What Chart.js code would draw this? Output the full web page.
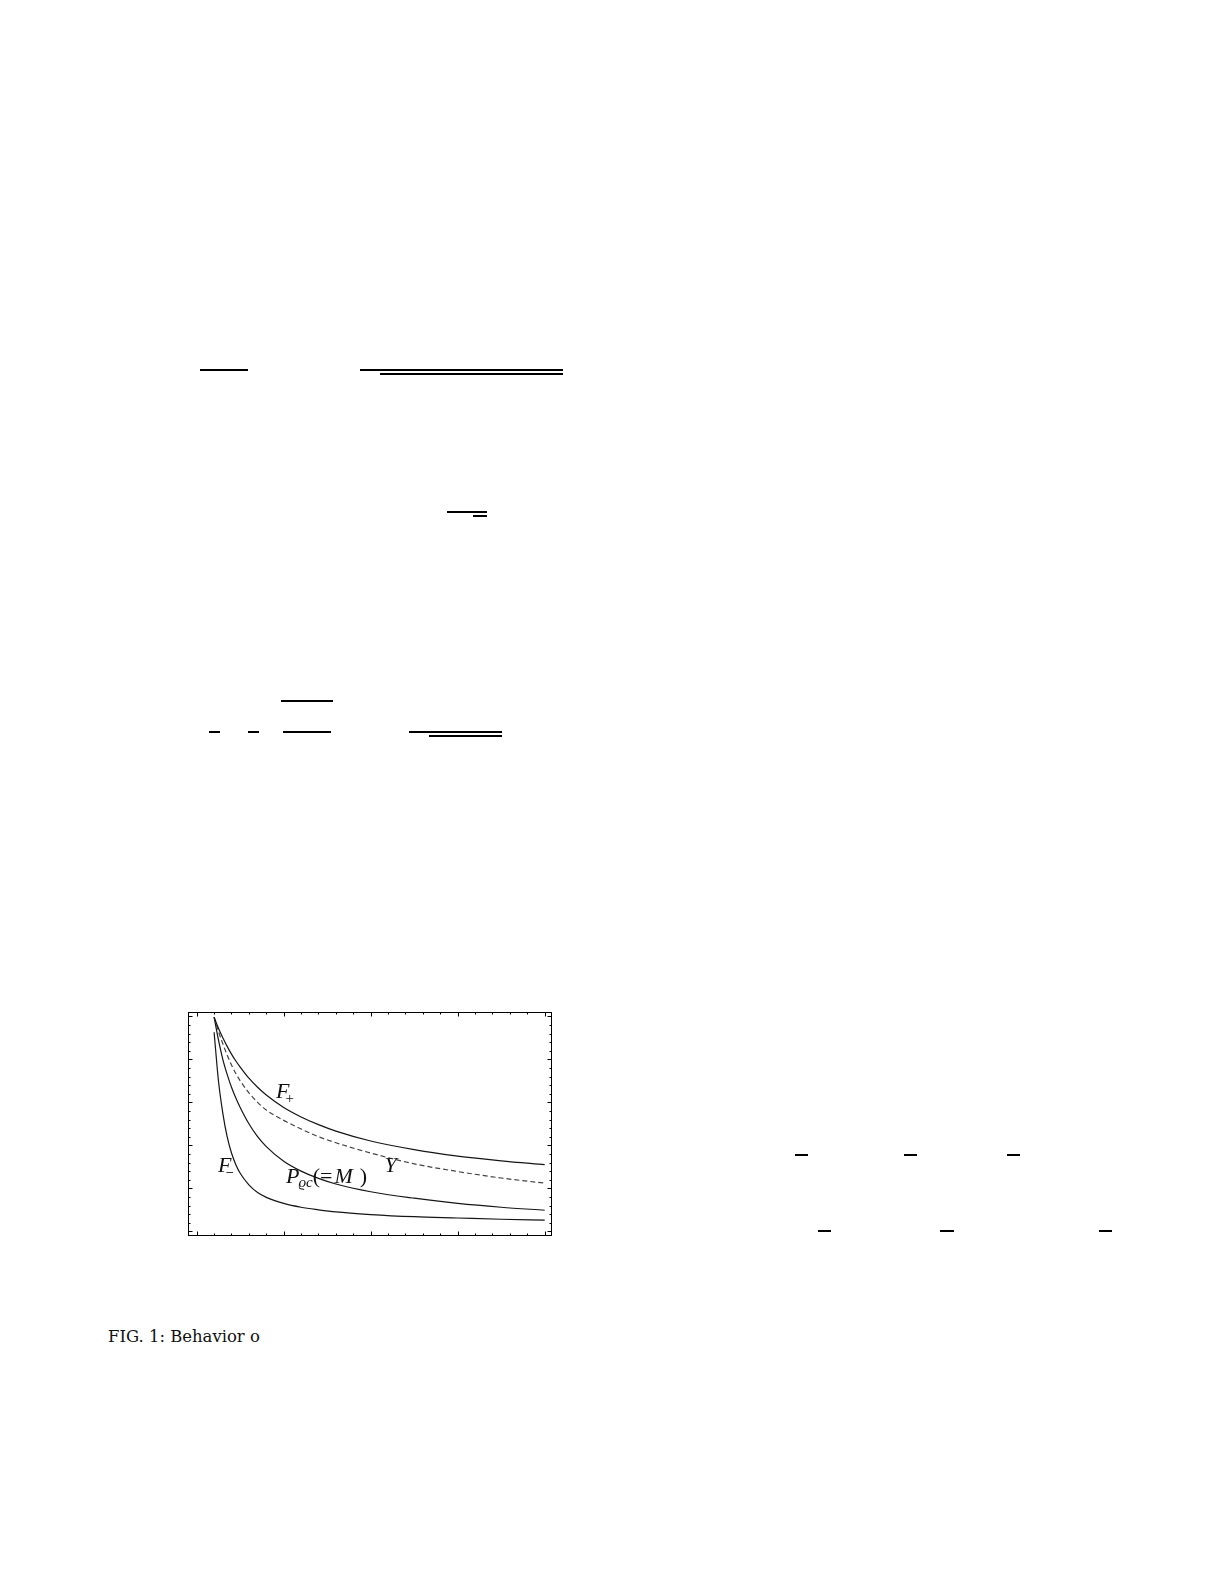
<!DOCTYPE html>
<html><head><meta charset="utf-8">
<script src="https://cdn.jsdelivr.net/npm/chart.js@4/dist/chart.umd.min.js"></script>
<style>
html,body{margin:0;padding:0;background:#fff;}
body{width:1225px;height:1585px;position:relative;overflow:hidden;}
.bar{position:absolute;background:#000;height:2px;}
#wrap{position:absolute;left:186px;top:1010px;width:368px;height:228px;}
#cap{position:absolute;left:108px;top:1328px;font-family:"DejaVu Serif",serif;font-size:14px;white-space:nowrap;color:#111;line-height:1;}
</style></head>
<body>
<div class="bar" style="left:200px;top:369px;width:48px"></div>
<div class="bar" style="left:360px;top:369px;width:203px"></div>
<div class="bar" style="left:380px;top:373px;width:183px"></div>
<div class="bar" style="left:447px;top:511px;width:40px"></div>
<div class="bar" style="left:473px;top:515px;width:14px"></div>
<div class="bar" style="left:281px;top:700px;width:52px"></div>
<div class="bar" style="left:209px;top:731px;width:11px"></div>
<div class="bar" style="left:248px;top:731px;width:11px"></div>
<div class="bar" style="left:283px;top:731px;width:48px"></div>
<div class="bar" style="left:409px;top:731px;width:93px"></div>
<div class="bar" style="left:429px;top:735px;width:73px"></div>
<div class="bar" style="left:795px;top:1154px;width:13px"></div>
<div class="bar" style="left:904px;top:1154px;width:13px"></div>
<div class="bar" style="left:1007px;top:1154px;width:13px"></div>
<div class="bar" style="left:818px;top:1230px;width:13px"></div>
<div class="bar" style="left:940px;top:1230px;width:14px"></div>
<div class="bar" style="left:1099px;top:1230px;width:13px"></div>
<div id="wrap"><canvas id="c"></canvas></div>
<div id="cap">FIG. 1: Behavior o</div>
<script>
// ---- data ----
const xValues = [1.2, 1.25, 1.3, 1.35, 1.4, 1.45, 1.5, 1.6, 1.7, 1.8, 2.0, 2.2, 2.4, 2.6, 3.0, 3.5, 4.0, 4.5, 5.0];
const fPlus   = [4.98, 4.72, 4.50, 4.30, 4.12, 3.96, 3.82, 3.56, 3.35, 3.17, 2.88, 2.66, 2.48, 2.33, 2.10, 1.90, 1.75, 1.64, 1.55];
const yCurve  = [4.98, 4.65, 4.36, 4.10, 3.87, 3.67, 3.50, 3.22, 3.00, 2.82, 2.58, 2.38, 2.20, 2.06, 1.82, 1.57, 1.39, 1.24, 1.12];
const pCurve  = [4.98, 4.45, 4.00, 3.65, 3.35, 3.10, 2.88, 2.50, 2.20, 1.97, 1.63, 1.40, 1.23, 1.10, 0.92, 0.77, 0.65, 0.56, 0.49];
const fMinus  = [4.63, 3.50, 2.75, 2.20, 1.82, 1.55, 1.35, 1.08, 0.90, 0.79, 0.65, 0.56, 0.50, 0.45, 0.39, 0.34, 0.31, 0.28, 0.26];
const xMajorTicks = [1, 2, 3, 4, 5];
const xMinorTicks = [1.2,1.4,1.6,1.8,2.2,2.4,2.6,2.8,3.2,3.4,3.6,3.8,4.2,4.4,4.6,4.8];
const yMajorTicks = [0, 1, 2, 3, 4, 5];
const yMinorTicks = [0.2,0.4,0.6,0.8,1.2,1.4,1.6,1.8,2.2,2.4,2.6,2.8,3.2,3.4,3.6,3.8,4.2,4.4,4.6,4.8];

const pts = arr => xValues.map((x,i)=>({x, y:arr[i]}));

const SERIF = '"Liberation Serif", "Times New Roman", serif';
const curveLabels = [
  {x:1.911, y:3.093, parts:[{t:'F',f:'italic 22px '+SERIF},{t:'+',f:'15px '+SERIF,dy:5,dx:-4}]},
  {x:1.245, y:1.372, parts:[{t:'F',f:'italic 22px '+SERIF},{t:'\u2013',f:'bold 13px '+SERIF,dy:3,dx:-5}]},
  {x:3.16,  y:1.372, parts:[{t:'Y',f:'italic 22px '+SERIF}]},
  {x:2.027, y:1.116, parts:[{t:'P',f:'italic 22px '+SERIF},{t:'\u03f1c',f:'italic 15px '+SERIF,dy:4,dx:-1},
                             {t:'(',f:'22px '+SERIF,dx:0},{t:'=',f:'22px '+SERIF,dx:0},{t:'M',f:'italic 22px '+SERIF,dx:2},{t:')',f:'22px '+SERIF,dx:7}]}
];

const framePlugin = {
  id:'frameTicks',
  afterDatasetsDraw(chart){
    const {ctx, chartArea:a, scales:{x, y}} = chart;
    ctx.save();
    ctx.strokeStyle = '#000';
    ctx.lineWidth = 1;
    const L = Math.round(a.left)+0.5, R = Math.round(a.right)-0.5, T = Math.round(a.top)+0.5, B = Math.round(a.bottom)-0.5;
    ctx.strokeRect(L, T, R-L, B-T);
    ctx.beginPath();
    const xt = (v, len) => { const p = Math.round(x.getPixelForValue(v))+0.5; ctx.moveTo(p,B); ctx.lineTo(p,B-len); ctx.moveTo(p,T); ctx.lineTo(p,T+len); };
    const yt = (v, len) => { const p = Math.round(y.getPixelForValue(v))+0.5; ctx.moveTo(L,p); ctx.lineTo(L+len,p); ctx.moveTo(R,p); ctx.lineTo(R-len,p); };
    xMajorTicks.forEach(v=>xt(v,4)); xMinorTicks.forEach(v=>xt(v,2));
    yMajorTicks.forEach(v=>yt(v,4)); yMinorTicks.forEach(v=>yt(v,2));
    ctx.stroke();
    ctx.fillStyle = '#111';
    ctx.textBaseline = 'alphabetic';
    curveLabels.forEach(lb=>{
      let px = x.getPixelForValue(lb.x), py = y.getPixelForValue(lb.y);
      lb.parts.forEach(p=>{
        ctx.font = p.f;
        px += (p.dx||0);
        ctx.fillText(p.t, px, py + (p.dy||0));
        px += ctx.measureText(p.t).width;
      });
    });
    ctx.restore();
  }
};

const base = {pointRadius:0, borderWidth:1.2, fill:false, cubicInterpolationMode:'monotone'};
new Chart(document.getElementById('c'), {
  type:'line',
  data:{datasets:[
    {...base, label:'F+', data:pts(fPlus), borderColor:'#151515'},
    {...base, label:'Y', data:pts(yCurve), borderColor:'#444', borderDash:[5,3]},
    {...base, label:'P', data:pts(pCurve), borderColor:'#151515'},
    {...base, label:'F-', data:pts(fMinus), borderColor:'#151515'}
  ]},
  options:{
    responsive:true, maintainAspectRatio:false, animation:false,
    devicePixelRatio:1,
    layout:{padding:2},
    plugins:{legend:{display:false}, tooltip:{enabled:false}},
    scales:{
      x:{type:'linear', min:0.9, max:5.084, display:false},
      y:{type:'linear', min:-0.109, max:5.1, display:false}
    }
  },
  plugins:[framePlugin]
});

// fit caption width to the reference's line length
(function(){
  const cap = document.getElementById('cap');
  const w = cap.getBoundingClientRect().width;
  const fs = 14 * 152 / w;
  cap.style.fontSize = fs.toFixed(2) + 'px';
  cap.style.top = (1338 - fs*0.55).toFixed(1) + 'px';
})();
</script>
</body></html>
